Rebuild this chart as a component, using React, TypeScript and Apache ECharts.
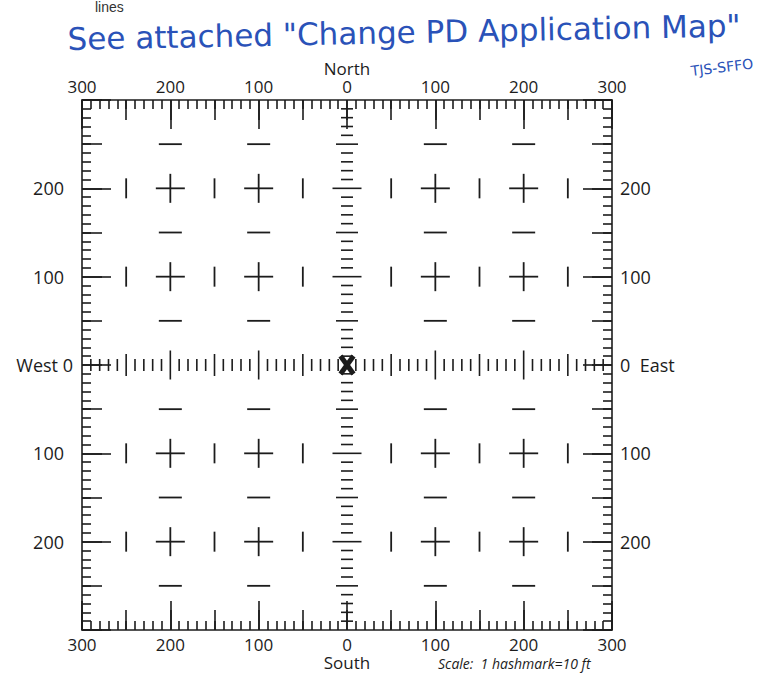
import React, { useEffect, useRef } from "react";
import * as echarts from "echarts";

// ---- data (feet from the centre point) ----
const axisMin = -300;
const axisMax = 300;
const majorStep = 100; // labelled ticks
const halfStep = 50; // medium hashmarks
const hashPerMajor = 10; // 1 hashmark = 10 ft
const crossXs = [-200, -100, 100, 200];
const crossYs = [-200, -100, 100, 200];
const barXs = [-250, -150, -50, 50, 150, 250];
const dashYs = [-250, -150, -50, 50, 150, 250];
const centreHash = [
  -290, -280, -270, -260, -250, -240, -230, -220, -210, -200,
  -190, -180, -170, -160, -150, -140, -130, -120, -110, -100,
  -90, -80, -70, -60, -50, -40, -30, -20, -10,
  10, 20, 30, 40, 50, 60, 70, 80, 90, 100,
  110, 120, 130, 140, 150, 160, 170, 180, 190, 200,
  210, 220, 230, 240, 250, 260, 270, 280, 290,
];

// mark kinds
const K_CROSS = 0;
const K_VBAR = 1;
const K_HDASH = 2;
const K_ROWTICK = 3;
const K_COLTICK = 4;
const K_CENTRE = 5;

const INK = "#1c1c1c";
const FONT = "'Open Sans', 'Liberation Sans', sans-serif";

function buildMarks() {
  const out: number[][] = [];
  crossYs.forEach((y) => {
    crossXs.forEach((x) => out.push([x, y, K_CROSS]));
    barXs.forEach((x) => out.push([x, y, K_VBAR]));
  });
  dashYs.forEach((y) => crossXs.forEach((x) => out.push([x, y, K_HDASH])));
  centreHash.forEach((v) => {
    out.push([v, 0, K_ROWTICK]);
    out.push([0, v, K_COLTICK]);
  });
  out.push([0, 0, K_CENTRE]);
  return out;
}

function tickHalf(v: number) {
  if (v % 100 === 0) return 14.5;
  if (v % 50 === 0) return 11;
  return 6;
}

const lineStyle = { color: INK, width: 1.6 };

function edgeX(position: "top" | "bottom", name: string) {
  return {
    type: "value",
    position,
    min: axisMin,
    max: axisMax,
    interval: majorStep,
    axisLine: { show: true, onZero: false, lineStyle },
    axisTick: { show: true, inside: true, length: 29, lineStyle },
    minorTick: { show: true, splitNumber: hashPerMajor, length: 9, lineStyle },
    splitLine: { show: false },
    minorSplitLine: { show: false },
    axisLabel: {
      fontFamily: FONT,
      fontSize: 17,
      lineHeight: 18,
      color: INK,
      margin: 5,
      formatter: (v: number) => {
        if (v !== 0) return String(Math.abs(v));
        return position === "top" ? "{nm|" + name + "}\n0" : "0\n{nm|" + name + "}";
      },
      rich: { nm: { fontFamily: FONT, fontSize: 17, lineHeight: 18, color: INK } },
    },
  };
}

function halfX(position: "top" | "bottom") {
  return {
    type: "value",
    position,
    min: axisMin,
    max: axisMax,
    interval: halfStep,
    axisLine: { show: false, onZero: false },
    axisTick: { show: true, inside: true, length: 20, lineStyle },
    splitLine: { show: false },
    axisLabel: { show: false },
  };
}

function edgeY(position: "left" | "right") {
  return {
    type: "value",
    position,
    min: axisMin,
    max: axisMax,
    interval: majorStep,
    axisLine: { show: true, onZero: false, lineStyle },
    axisTick: { show: true, inside: true, length: 29, lineStyle },
    minorTick: { show: true, splitNumber: hashPerMajor, length: 9, lineStyle },
    splitLine: { show: false },
    minorSplitLine: { show: false },
    axisLabel: {
      fontFamily: FONT,
      fontSize: 18,
      color: INK,
      margin: position === "left" ? 9 : 8,
      formatter: (v: number) => {
        if (Math.abs(v) === axisMax) return "";
        if (v === 0) return position === "left" ? "West 0" : "0  East";
        return position === "left" ? "{n|" + Math.abs(v) + "}" : String(Math.abs(v));
      },
      rich: { n: { fontFamily: FONT, fontSize: 18, color: INK, padding: [0, 9, 0, 0] } },
    },
  };
}

function halfY(position: "left" | "right") {
  return {
    type: "value",
    position,
    min: axisMin,
    max: axisMax,
    interval: halfStep,
    axisLine: { show: false, onZero: false },
    axisTick: { show: true, inside: true, length: 20, lineStyle },
    splitLine: { show: false },
    axisLabel: { show: false },
  };
}

export default function App() {
  const ref = useRef<HTMLDivElement>(null);
  useEffect(() => {
    if (!ref.current) return;
    const chart = echarts.init(ref.current, null, { renderer: "svg" });
    const seg = (x1: number, y1: number, x2: number, y2: number, w = 1.8) => ({
      type: "line",
      shape: { x1, y1, x2, y2 },
      style: { stroke: INK, lineWidth: w, lineCap: "butt" },
    });
    chart.setOption({
      animation: false,
      backgroundColor: "#ffffff",
      grid: {
        left: 82,
        right: 152,
        top: 100,
        bottom: 43,
        containLabel: false,
        outerBoundsMode: "none",
      },
      xAxis: [edgeX("bottom", "South"), edgeX("top", "North"), halfX("bottom"), halfX("top")],
      yAxis: [edgeY("left"), edgeY("right"), halfY("left"), halfY("right")],
      series: [
        {
          type: "custom",
          coordinateSystem: "cartesian2d",
          xAxisIndex: 0,
          yAxisIndex: 0,
          silent: true,
          clip: false,
          data: buildMarks(),
          renderItem: (params: any, api: any) => {
            const x = api.value(0);
            const y = api.value(1);
            const k = api.value(2);
            const p = api.coord([x, y]);
            const cx = p[0];
            const cy = p[1];
            const children: any[] = [];
            if (k === K_CROSS) {
              children.push(seg(cx - 14.5, cy, cx + 14.5, cy));
              children.push(seg(cx, cy - 14.5, cx, cy + 14.5));
            } else if (k === K_VBAR) {
              children.push(seg(cx, cy - 10, cx, cy + 10));
            } else if (k === K_HDASH) {
              children.push(seg(cx - 11.5, cy, cx + 11.5, cy));
            } else if (k === K_ROWTICK) {
              const h = tickHalf(x);
              children.push(seg(cx, cy - h, cx, cy + h, 1.6));
            } else if (k === K_COLTICK) {
              const h = tickHalf(y);
              children.push(seg(cx - h, cy, cx + h, cy, 1.6));
            } else if (k === K_CENTRE) {
              children.push(seg(cx - 6.5, cy - 9, cx + 6.5, cy + 9, 5));
              children.push(seg(cx + 6.5, cy - 9, cx - 6.5, cy + 9, 5));
            }
            return { type: "group", children };
          },
        },
      ],
      graphic: [
        {
          type: "text",
          x: 95,
          y: 0,
          style: { text: "lines", fill: "#333", font: "14px 'Liberation Sans', sans-serif" },
        },
        {
          type: "text",
          x: 68,
          y: 22,
          rotation: 0.02,
          originX: 68,
          originY: 40,
          style: {
            text: 'See attached "Change PD Application Map"',
            fill: "#2a52b8",
            font: "31px 'DejaVu Sans', sans-serif",
          },
        },
        {
          type: "text",
          x: 690,
          y: 64,
          rotation: 0.12,
          style: { text: "TJS-SFFO", fill: "#2a52b8", font: "14px 'DejaVu Sans', sans-serif" },
        },
        {
          type: "text",
          x: 438,
          y: 656,
          style: {
            text: "Scale:  1 hashmark=10 ft",
            fill: INK,
            font: "italic 14px 'Open Sans', sans-serif",
          },
        },
      ],
    });
    return () => chart.dispose();
  }, []);
  return (
    <div
      ref={ref}
      style={{ position: "absolute", left: 0, top: 0, width: 764, height: 673 }}
    />
  );
}
